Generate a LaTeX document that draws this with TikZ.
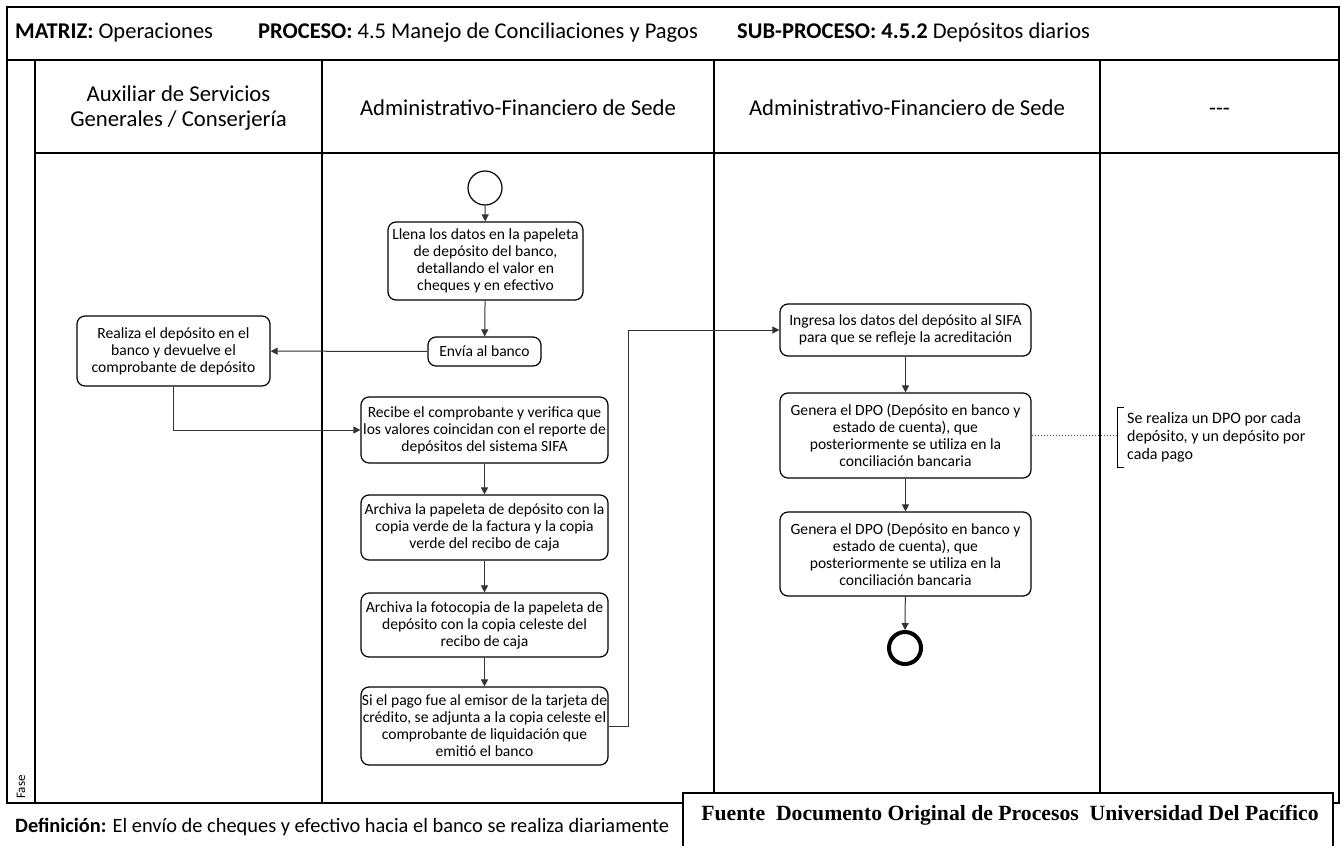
\documentclass[tikz,border=0pt]{standalone}
\usepackage{fontspec}
\setmainfont{Carlito}
\newfontfamily\serifbold{Liberation Serif}
\usetikzlibrary{arrows.meta}

\begin{document}
\begin{tikzpicture}[x=1pt,y=-1pt,
  lane/.style={line width=1.5pt, line cap=rect},
  act/.style={draw=black, line width=1.2pt, rounded corners=8pt, fill=white,
    align=center, inner sep=0pt, font=\fontsize{15.6}{17}\selectfont},
  flow/.style={draw=black!80, line width=1pt,
    -{Triangle[length=7pt,width=7pt]}},
  head/.style={align=center, font=\fontsize{22.7}{25}\selectfont},
  titletext/.style={anchor=west, inner sep=0pt, font=\fontsize{22.5}{26}\selectfont}
]
\useasboundingbox (0,0) rectangle (1344,846);

% swimlane frame
\draw[lane] (7,7) rectangle (1339,803);
\draw[lane] (7,60) -- (1339,60);
\draw[lane] (35,153) -- (1339,153);
\draw[lane] (35,60) -- (35,803);
\draw[lane] (322,60) -- (322,803);
\draw[lane] (714,60) -- (714,803);
\draw[lane] (1100,60) -- (1100,803);

% title row
\node[titletext] (matriz) at (15,33) {\textbf{MATRIZ:} Operaciones};
\node[titletext] (proceso) at (258,33) {\textbf{PROCESO:} 4.5 Manejo de Conciliaciones y Pagos};
\node[titletext] (subproceso) at (737,33) {\textbf{SUB-PROCESO: 4.5.2} Depósitos diarios};

% lane headers
\node[head] (h1) at (178.5,108) {Auxiliar de Servicios\\Generales / Conserjería};
\node[head] (h2) at (518,108) {Administrativo-Financiero de Sede};
\node[head] (h3) at (907,108) {Administrativo-Financiero de Sede};
\node[head, anchor=base] (h4) at (1219.5,115) {-{}-{}-};
\node[rotate=90, anchor=west, inner sep=0pt, font=\fontsize{13}{15}\selectfont] (fase) at (21,799) {Fase};

% activities
\node[circle, draw=black, line width=1.2pt, minimum size=34pt, inner sep=0pt] (start) at (485,188) {};
\node[act, minimum width=195pt, minimum height=78pt] (llena) at (485.5,261)
  {Llena los datos en la papeleta\\de depósito del banco,\\detallando el valor en\\cheques y en efectivo};
\node[act, minimum width=113pt, minimum height=29pt] (envia) at (484.5,351.5) {Envía al banco};
\node[act, minimum width=193pt, minimum height=70pt] (realiza) at (173.5,351)
  {Realiza el depósito en el\\banco y devuelve el\\comprobante de depósito};
\node[act, minimum width=247pt, minimum height=66pt] (recibe) at (484.5,430)
  {Recibe el comprobante y verifica que\\los valores coincidan con el reporte de\\depósitos del sistema SIFA};
\node[act, minimum width=247pt, minimum height=65pt] (archiva1) at (484.5,527.5)
  {Archiva la papeleta de depósito con la\\copia verde de la factura y la copia\\verde del recibo de caja};
\node[act, minimum width=247pt, minimum height=64pt] (archiva2) at (484.5,625)
  {Archiva la fotocopia de la papeleta de\\depósito con la copia celeste del\\recibo de caja};
\node[act, minimum width=247pt, minimum height=78pt] (sipago) at (484.5,726)
  {Si el pago fue al emisor de la tarjeta de\\crédito, se adjunta a la copia celeste el\\comprobante de liquidación que\\emitió el banco};
\node[act, minimum width=251pt, minimum height=52pt] (ingresa) at (905.5,330)
  {Ingresa los datos del depósito al SIFA\\para que se refleje la acreditación};
\node[act, minimum width=251pt, minimum height=85pt] (genera1) at (905.5,435.5)
  {Genera el DPO (Depósito en banco y\\estado de cuenta), que\\posteriormente se utiliza en la\\conciliación bancaria};
\node[act, minimum width=251pt, minimum height=84pt] (genera2) at (905.5,554)
  {Genera el DPO (Depósito en banco y\\estado de cuenta), que\\posteriormente se utiliza en la\\conciliación bancaria};
\node[circle, draw=black, line width=4pt, minimum size=32pt, inner sep=0pt] (finish) at (905,648) {};

% annotation
\coordinate (note) at (1117,435.5);
\draw[line width=1pt] (1124,407) -- (1117,407) -- (1117,467) -- (1124,467);
\node[anchor=west, align=left, inner sep=0pt, font=\fontsize{16}{18}\selectfont] (notetext) at (1127,437)
  {Se realiza un DPO por cada\\depósito, y un depósito por\\cada pago};
\draw[line width=1pt, dotted, black!70] (genera1.east) -- (note);

% connectors
\draw[flow] (start) -- (llena);
\draw[flow] (llena) -- (envia);
\draw[flow] (envia) -- (realiza);
\draw[flow] (realiza.south) |- (recibe.west);
\draw[flow] (recibe) -- (archiva1);
\draw[flow] (archiva1) -- (archiva2);
\draw[flow] (archiva2) -- (sipago);
\draw[flow] (sipago.east) -- ++(20,0) |- (ingresa.west);
\draw[flow] (ingresa) -- (genera1);
\draw[flow] (genera1) -- (genera2);
\draw[flow] (genera2) -- (finish);

% footer
\node[anchor=west, inner sep=0pt, font=\fontsize{20.4}{24}\selectfont] (definicion) at (15,827)
  {\textbf{Definición:} El envío de cheques y efectivo hacia el banco se realiza diariamente};
\fill[white] (683,793) rectangle (1333,846);
\draw[line width=1.5pt] (683,846) -- (683,793) -- (1333,793) -- (1333,846);
\node[font=\serifbold\bfseries\fontsize{21.7}{25}\selectfont, inner sep=0pt] (fuente) at (1010,815)
  {Fuente\ \ Documento Original de Procesos\ \ Universidad Del Pacífico};
\end{tikzpicture}
\end{document}
